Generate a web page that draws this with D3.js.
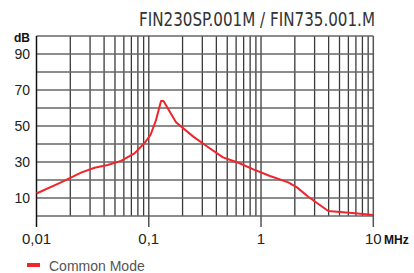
<!DOCTYPE html>
<head>
  <meta charset="utf-8">
  <style>
  body { margin: 0; background: #fff; }
  * { font-family: "Liberation Sans Narrow", "DejaVu Sans Condensed", sans-serif; }
  .label { font-family: "Liberation Sans", Arial, sans-serif; }
  </style>
</head>
<body>
  <svg width="414" height="273"></svg>
  <script src="https://d3js.org/d3.v7.min.js"></script>
  <script>
  // chart values
  var title = "FIN230SP.001M / FIN735.001.M";
  var freq = [0.01, 0.0171, 0.0249, 0.0329, 0.0431, 0.0566, 0.0746, 0.0912, 0.1036, 0.116,
              0.1286, 0.1353, 0.1748, 0.2493, 0.3388, 0.458, 0.629, 0.865, 1.202, 1.749,
              2.09, 2.636, 3.97, 6.87, 10];
  var dB = [12.5, 19.1, 24.1, 26.8, 28.3, 30.6, 34.8, 40.4, 45, 53.3,
            63.9, 63.9, 52.1, 44.1, 38.2, 32.6, 29.6, 25.8, 22.2, 18.7,
            15.9, 10.7, 2.8, 1.5, 0.6];
  var yTicks = [10, 30, 50, 70, 90];
  var xTicks = [0.01, 0.1, 1, 10];
  var xTickLabels = ["0,01", "0,1", "1", "10"];
  var seriesName = "Common Mode";

  var svg = d3.select("svg");
  // note: "top" clashes with window.top, so plot edges get their own names
  var plotL = 36.5, plotR = 373.3, plotT = 36, plotB = 216;

  var x = d3.scaleLog().domain([0.01, 10]).range([plotL, plotR]);
  var y = d3.scaleLinear().domain([0, 100]).range([plotB, plotT]);

  // minor vertical grid (2..9 of each decade)
  var minor = x.ticks().filter(function(d) { return xTicks.indexOf(d) < 0; });
  var grid = svg.append("g").attr("class", "grid");
  grid.selectAll(".v")
    .data(minor)
    .enter().append("line")
      .attr("x1", function(d) { return x(d); })
      .attr("x2", function(d) { return x(d); })
      .attr("y1", plotT).attr("y2", plotB)
      .attr("stroke-width", 1.3)
      .style("stroke", "#3a3a3a");

  // horizontal lines every 10 dB
  grid.selectAll(".h")
    .data(d3.range(0, 101, 10))
    .enter().append("line")
      .attr("x1", plotL).attr("x2", plotR)
      .attr("y1", function(d) { return y(d); })
      .attr("y2", function(d) { return y(d); })
      .attr("stroke-width", 1.6)
      .style("stroke", "#666");

  // decade lines, extending below the plot as ticks
  grid.selectAll(".major")
    .data(xTicks)
    .enter().append("line")
      .attr("x1", function(d) { return x(d); })
      .attr("x2", function(d) { return x(d); })
      .attr("y1", plotT).attr("y2", plotB + 11)
      .attr("stroke-width", 1.5)
      .style("stroke", function(d, i) { return i == 0 ? "#111" : "#555"; });

  // y labels
  svg.append("g").selectAll("text")
    .data(yTicks)
    .enter().append("text")
      .attr("class", "label")
      .attr("x", 30)
      .attr("y", function(d) { return y(d); })
      .attr("dy", "0.36em")
      .attr("text-anchor", "end")
      .attr("font-size", 14)
      .attr("fill", "#222")
      .text(function(d) { return d; });

  svg.append("text")
    .attr("class", "label")
    .attr("x", 30).attr("y", 42)
    .attr("text-anchor", "end")
    .attr("font-size", 12)
    .attr("font-weight", "bold")
    .attr("fill", "#111")
    .text("dB");

  // x labels
  svg.append("g").selectAll("text")
    .data(xTicks)
    .enter().append("text")
      .attr("class", "label")
      .attr("x", function(d) { return x(d); })
      .attr("y", 244)
      .attr("text-anchor", "middle")
      .attr("font-size", 15)
      .attr("fill", "#222")
      .text(function(d, i) { return xTickLabels[i]; });

  svg.append("text")
    .attr("class", "label")
    .attr("x", 384).attr("y", 244)
    .attr("font-size", 12)
    .attr("font-weight", "bold")
    .attr("fill", "#111")
    .text("MHz");

  // title
  svg.append("text")
    .attr("x", 375).attr("y", 26)
    .attr("text-anchor", "end")
    .attr("font-size", 19)
    .attr("textLength", 236)
    .attr("lengthAdjust", "spacingAndGlyphs")
    .attr("fill", "#333")
    .text(title);

  // curve
  var pts = freq.map(function(f, i) { return [f, dB[i]]; });
  svg.append("path")
    .datum(pts)
    .attr("fill", "none")
    .attr("stroke", "#f0242b")
    .attr("stroke-width", 2)
    .attr("stroke-linejoin", "round")
    .attr("d", d3.line()
      .x(function(d) { return x(d[0]); })
      .y(function(d) { return y(d[1]); }));

  // legend
  svg.append("line")
    .attr("x1", 27).attr("x2", 40)
    .attr("y1", 265).attr("y2", 265)
    .attr("stroke", "#f0242b")
    .attr("stroke-width", 4);
  svg.append("text")
    .attr("class", "label")
    .attr("x", 49).attr("y", 271)
    .attr("font-size", 14)
    .attr("fill", "#555")
    .text(seriesName);
  </script>
</body>
